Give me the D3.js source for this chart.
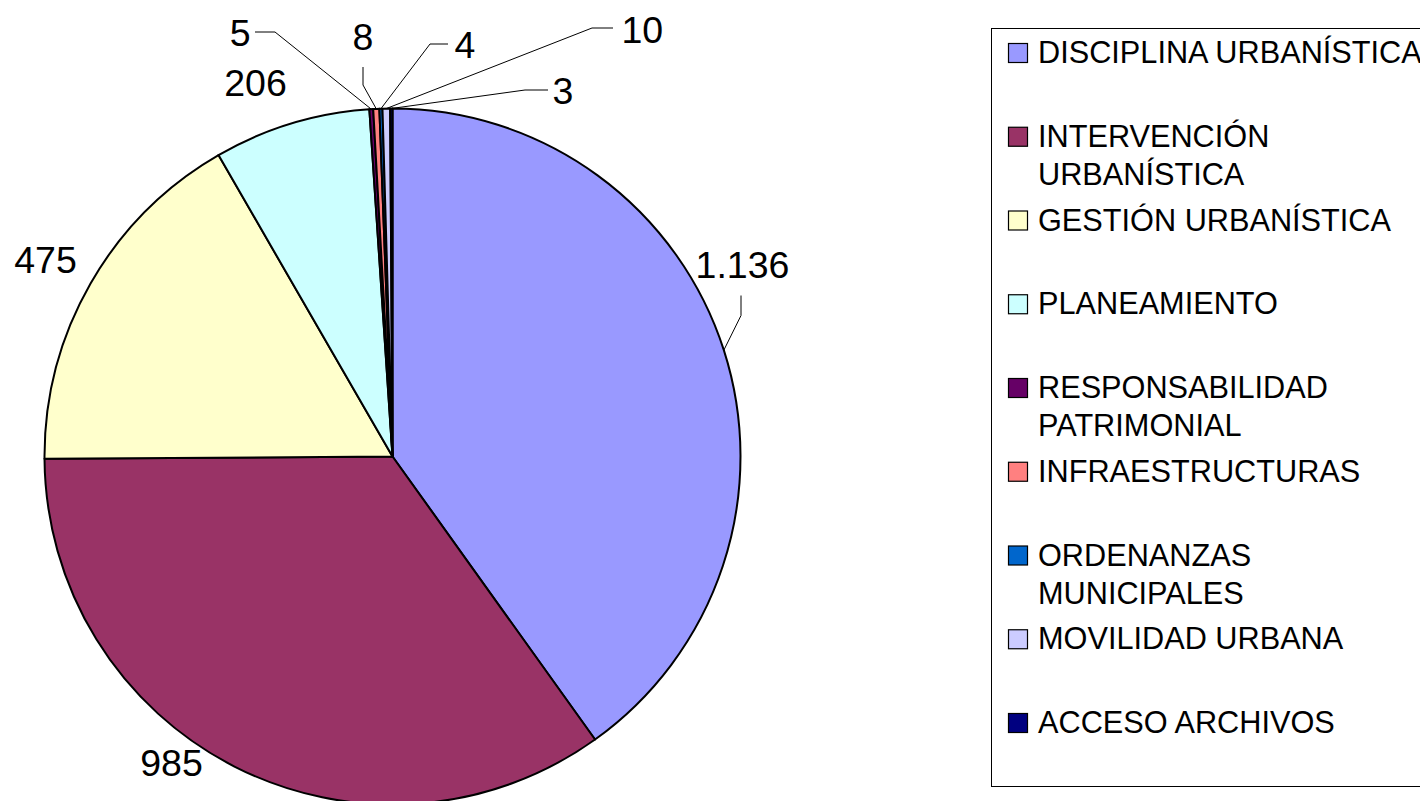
<!DOCTYPE html>
<html>
<head>
<meta charset="utf-8">
<script src="https://cdn.jsdelivr.net/npm/d3@7"></script>
<style>
  body { margin: 0; background: #fff; overflow: hidden; }
  text { font-family: "Liberation Sans", Arial, sans-serif; fill: #000; }
</style>
</head>
<body>
<div id="vis"></div>
<script>
// data
const CATEGORIES = ['DISCIPLINA URBANÍSTICA', 'INTERVENCIÓN URBANÍSTICA', 'GESTIÓN URBANÍSTICA',
                    'PLANEAMIENTO', 'RESPONSABILIDAD PATRIMONIAL', 'INFRAESTRUCTURAS',
                    'ORDENANZAS MUNICIPALES', 'MOVILIDAD URBANA', 'ACCESO ARCHIVOS'];
const VALUES = [1136, 985, 475, 206, 5, 8, 4, 10, 3];
const VALUE_LABELS = ['1.136', '985', '475', '206', '5', '8', '4', '10', '3'];
const COLORS = ['#9999FF', '#993366', '#FFFFCC', '#CCFFFF', '#660066',
                '#FF8080', '#0066CC', '#CCCCFF', '#000080'];
// how the legend wraps the long names
const LEGEND_LINES = [['DISCIPLINA URBANÍSTICA'], ['INTERVENCIÓN', 'URBANÍSTICA'], ['GESTIÓN URBANÍSTICA'],
                      ['PLANEAMIENTO'], ['RESPONSABILIDAD', 'PATRIMONIAL'], ['INFRAESTRUCTURAS'],
                      ['ORDENANZAS', 'MUNICIPALES'], ['MOVILIDAD URBANA'], ['ACCESO ARCHIVOS']];

// setting up the basics
const FRAME_WIDTH = 1420;
const FRAME_HEIGHT = 801;
const CX = 392.5, CY = 456.5, RADIUS = 348;

// label layout (label baseline relative to pie centre, leader elbow + end)
// null leader = label without leader line
const LABEL_LAYOUT = [
  {x: 350, y: -179, leader: [[348.5, -141], [348.5, -161]]},
  {x: -221, y: 319, leader: null},
  {x: -347, y: -184, leader: null},
  {x: -137, y: -361, leader: null},
  {x: -142, y: -411, anchor: 'end', leader: [[-117.5, -424.5], [-137.5, -424.5]]},
  {x: -29.5, y: -407, leader: [[-29.5, -371.5], [-29.5, -389.5]]},
  {x: 62, y: -399, anchor: 'start', leader: [[37.5, -412.5], [55.5, -412.5]]},
  {x: 229, y: -414, anchor: 'start', leader: [[199.5, -428.5], [220.5, -428.5]]},
  {x: 160, y: -353, anchor: 'start', leader: [[132.5, -366.5], [155.5, -366.5]]}
];

const svg = d3.select('#vis')
  .append('svg')
    .attr('width', FRAME_WIDTH)
    .attr('height', FRAME_HEIGHT);

const data = CATEGORIES.map((c, i) => ({cat: c, value: VALUES[i], label: VALUE_LABELS[i], color: COLORS[i], i: i}));

const pie = d3.pie().sort(null).value(d => d.value);
const arcs = pie(data);
const arc = d3.arc().innerRadius(0).outerRadius(RADIUS);

const G = svg.append('g').attr('transform', 'translate(' + CX + ',' + CY + ')');

// slices
G.selectAll('path.slice')
  .data(arcs)
  .enter()
  .append('path')
    .attr('class', 'slice')
    .attr('d', arc)
    .attr('fill', d => d.data.color)
    .attr('stroke', '#000')
    .attr('stroke-width', 2)
    .attr('stroke-linejoin', 'round');

// leader lines: from outer edge at mid angle to elbow and on to the label
const line = d3.line();
G.selectAll('path.leader')
  .data(arcs.filter(d => LABEL_LAYOUT[d.index].leader))
  .enter()
  .append('path')
    .attr('class', 'leader')
    .attr('d', d => {
      const mid = (d.startAngle + d.endAngle) / 2;
      const p0 = [Math.sin(mid) * RADIUS, -Math.cos(mid) * RADIUS];
      return line([p0].concat(LABEL_LAYOUT[d.index].leader));
    })
    .attr('fill', 'none')
    .attr('stroke', '#000')
    .attr('stroke-width', 1);

// value labels
G.selectAll('text.value')
  .data(arcs)
  .enter()
  .append('text')
    .attr('class', 'value')
    .attr('x', d => LABEL_LAYOUT[d.index].x)
    .attr('y', d => LABEL_LAYOUT[d.index].y)
    .attr('text-anchor', d => LABEL_LAYOUT[d.index].anchor || 'middle')
    .attr('font-size', '37.5px')
    .text(d => d.data.label);

// legend
const LEGEND = svg.append('g');
LEGEND.append('rect')
  .attr('x', 991.5).attr('y', 28.5)
  .attr('width', 450).attr('height', 758)
  .attr('fill', '#fff')
  .attr('stroke', '#000')
  .attr('stroke-width', 1);

const ROW_Y = d3.scaleLinear().domain([0, CATEGORIES.length - 1]).range([63, 733]);

const items = LEGEND.selectAll('g.item')
  .data(data)
  .enter()
  .append('g')
    .attr('class', 'item')
    .attr('transform', d => 'translate(0,' + ROW_Y(d.i) + ')');

items.append('rect')
  .attr('x', 1008.5).attr('y', -19.5)
  .attr('width', 19).attr('height', 19)
  .attr('fill', d => d.color)
  .attr('stroke', '#000')
  .attr('stroke-width', 1.2);

items.selectAll('text')
  .data(d => LEGEND_LINES[d.i])
  .enter()
  .append('text')
    .attr('x', 1038)
    .attr('y', (d, j) => j * 38)
    .attr('font-size', '30.7px')
    .text(d => d);
</script>
</body>
</html>
